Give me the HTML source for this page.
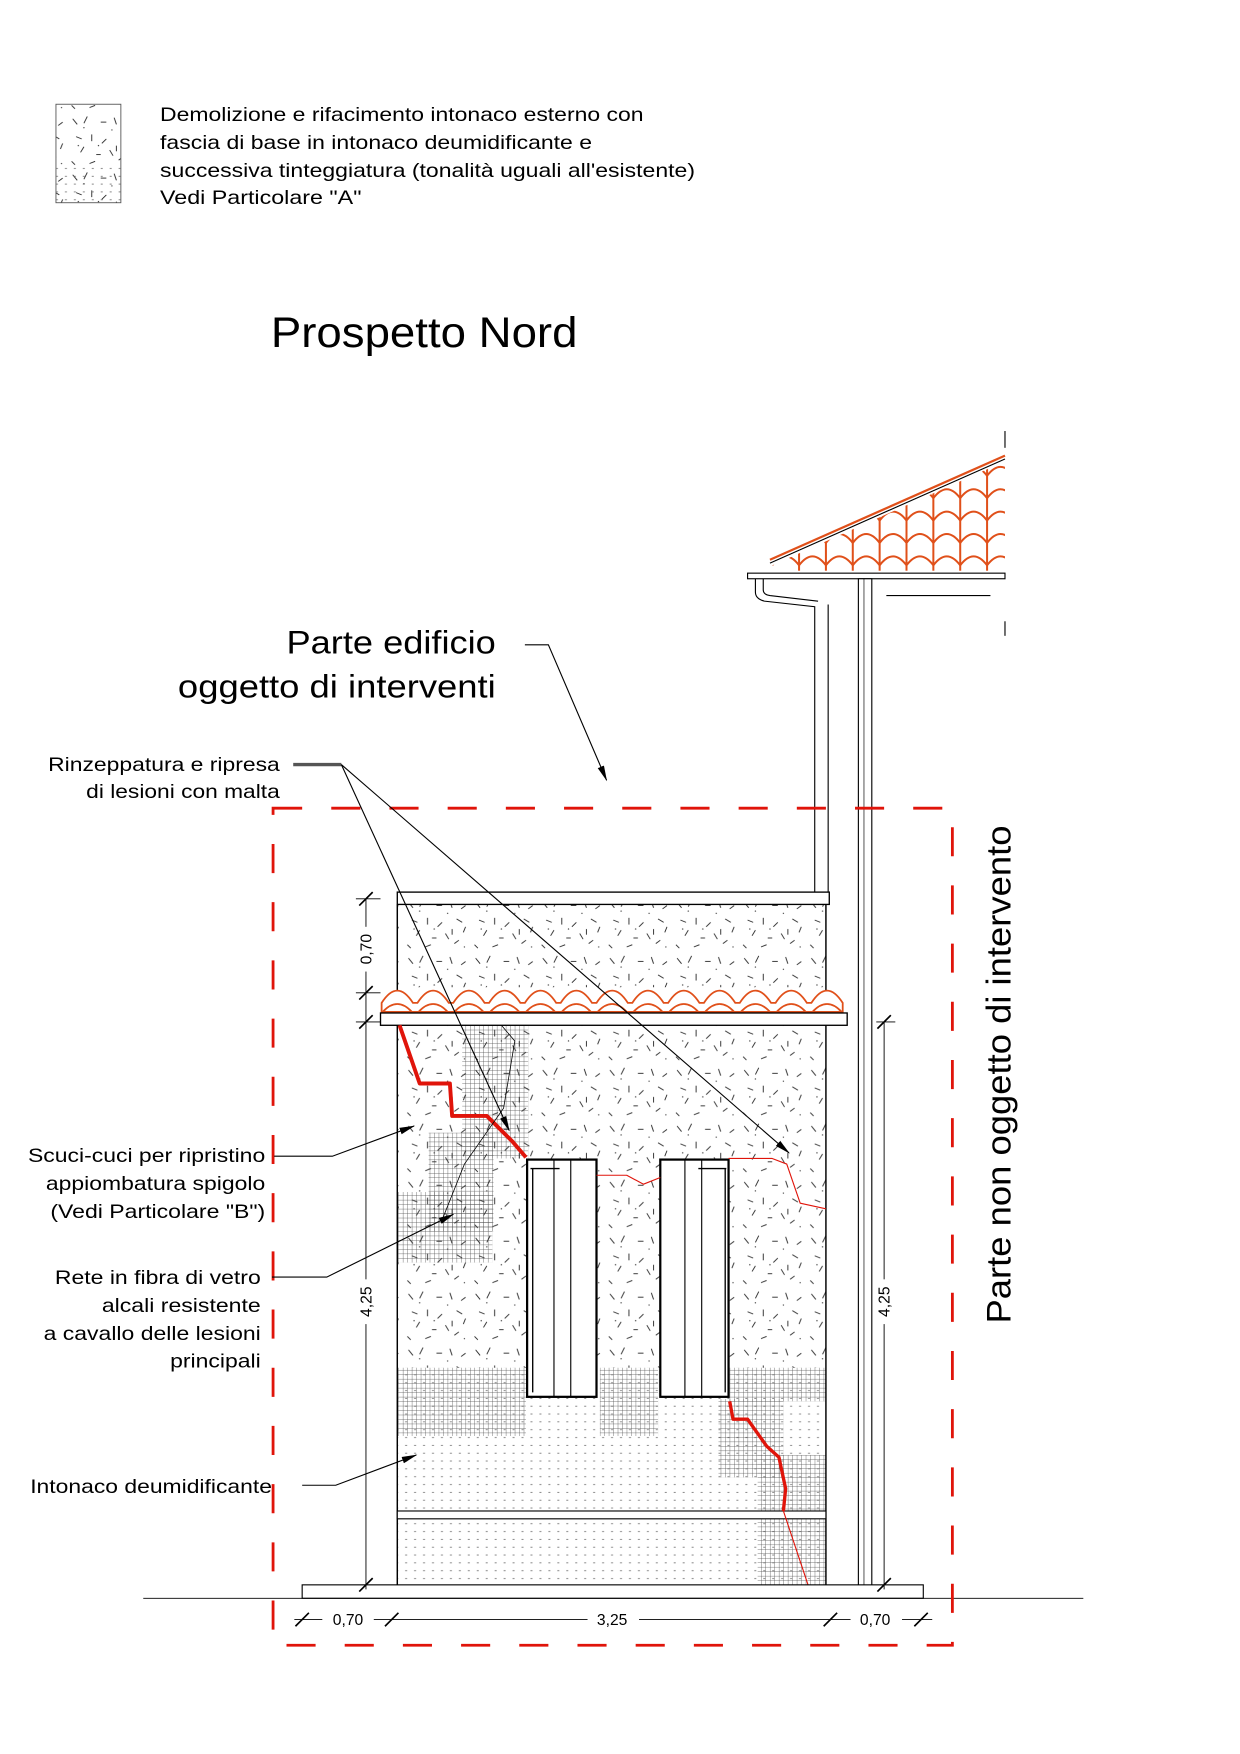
<!DOCTYPE html>
<html><head><meta charset="utf-8"><style>
html,body{margin:0;padding:0;background:#fff}
svg{display:block}
text{font-family:"Liberation Sans",sans-serif;fill:#000}
</style></head><body>
<svg width="1240" height="1754" viewBox="0 0 1108 1567" xmlns="http://www.w3.org/2000/svg">
<defs>
<pattern id="spk" width="60" height="50" patternUnits="userSpaceOnUse">
<g stroke="#222" stroke-width="0.8" fill="none">
<path d="M5 6l4 5M18 4l-3 6M30 9h5M42 5l2 6M52 12l4-3M8 22l5 2M22 20v6M35 24l-4 4M48 21l5 3M12 36l3-5M26 38h4M38 34l3 5M50 40l-4 3M4 44l3 3M20 46l5-2M44 30v5M56 28l-2 5"/>
</g>
<g fill="#444"><circle cx="15" cy="14" r="0.6"/><circle cx="40" cy="16" r="0.6"/><circle cx="28" cy="30" r="0.6"/><circle cx="55" cy="46" r="0.6"/><circle cx="10" cy="30" r="0.6"/></g>
</pattern>
<pattern id="dot" width="8" height="7" patternUnits="userSpaceOnUse">
<rect x="2" y="3" width="1.8" height="0.7" fill="#666"/>
</pattern>
<pattern id="grid" width="4" height="4" patternUnits="userSpaceOnUse">
<path d="M0 0H4M0 0V4" stroke="#333" stroke-width="0.7"/>
</pattern>
<marker id="ar" markerWidth="14" markerHeight="8" refX="13" refY="4" orient="auto" markerUnits="userSpaceOnUse">
<path d="M0 1L14 4L0 7z" fill="#000"/>
</marker>
<clipPath id="roofclip"><path d="M690 505L898 412V510H690z"/></clipPath>
</defs>

<!-- legend -->
<rect x="50" y="93" width="58" height="88" fill="url(#spk)" stroke="#555" stroke-width="0.8"/>
<rect x="50" y="145" width="58" height="36" fill="url(#dot)"/>
<g font-size="17.5" lengthAdjust="spacingAndGlyphs">
<text x="143" y="108" textLength="432" lengthAdjust="spacingAndGlyphs">Demolizione e rifacimento intonaco esterno con</text>
<text x="143" y="133" textLength="386" lengthAdjust="spacingAndGlyphs">fascia di base in intonaco deumidificante e</text>
<text x="143" y="158" textLength="478" lengthAdjust="spacingAndGlyphs">successiva tinteggiatura (tonalità uguali all'esistente)</text>
<text x="143" y="182" textLength="180" lengthAdjust="spacingAndGlyphs">Vedi Particolare "A"</text>
</g>
<text x="242" y="310" font-size="38" textLength="274" lengthAdjust="spacingAndGlyphs">Prospetto Nord</text>

<!-- roof upper right -->
<g clip-path="url(#roofclip)" stroke="#e0501a" stroke-width="1.8" fill="none">
<path d="M690 505 q12-16 24 0 q12-16 24 0 q12-16 24 0 q12-16 24 0 q12-16 24 0 q12-16 24 0 q12-16 24 0 q12-16 24 0 q12-16 24 0"/>
<path d="M690 485 q12-16 24 0 q12-16 24 0 q12-16 24 0 q12-16 24 0 q12-16 24 0 q12-16 24 0 q12-16 24 0 q12-16 24 0 q12-16 24 0"/>
<path d="M690 465 q12-16 24 0 q12-16 24 0 q12-16 24 0 q12-16 24 0 q12-16 24 0 q12-16 24 0 q12-16 24 0 q12-16 24 0 q12-16 24 0"/>
<path d="M690 445 q12-16 24 0 q12-16 24 0 q12-16 24 0 q12-16 24 0 q12-16 24 0 q12-16 24 0 q12-16 24 0 q12-16 24 0 q12-16 24 0"/>
<path d="M690 425 q12-16 24 0 q12-16 24 0 q12-16 24 0 q12-16 24 0 q12-16 24 0 q12-16 24 0 q12-16 24 0 q12-16 24 0 q12-16 24 0"/>
<path d="M714 510V440M738 510V430M762 510V420M786 510V410M810 510V400M834 510V390M858 510V380M882 510V370"/>
</g>
<path d="M688 500L898 407" stroke="#e0501a" stroke-width="2"/>
<path d="M688 503L898 410" stroke="#000" stroke-width="1"/>
<line x1="898" y1="385" x2="898" y2="400" stroke="#000"/>
<line x1="898" y1="555" x2="898" y2="568" stroke="#000"/>
<rect x="668" y="512" width="230" height="5" fill="#fff" stroke="#000" stroke-width="1"/>
<path d="M675 517v12q0 6 8 8l45 5v255M682 517v10q0 4 6 5l43 5" fill="none" stroke="#000" stroke-width="1"/>
<line x1="740" y1="540" x2="740" y2="797" stroke="#000"/>
<line x1="792" y1="532" x2="885" y2="532" stroke="#000"/>
<rect x="767" y="517" width="12" height="900" fill="#fff" stroke="#000" stroke-width="1"/>
<line x1="772" y1="517" x2="772" y2="1416" stroke="#000" stroke-width="0.6"/>

<!-- building -->
<rect x="355" y="808" width="383" height="74" fill="url(#spk)"/>
<rect x="355" y="916" width="383" height="306" fill="url(#spk)"/>
<rect x="355" y="1222" width="383" height="128" fill="url(#dot)"/>
<rect x="355" y="1357" width="383" height="59" fill="url(#dot)"/>
<g fill="url(#grid)" opacity="0.85">
<rect x="413" y="916" width="59" height="119"/>
<rect x="383" y="1012" width="58" height="88"/>
<rect x="355" y="1065" width="85" height="63"/>
<rect x="355" y="1222" width="115" height="61"/>
<rect x="536" y="1222" width="52" height="61"/>
<rect x="652" y="1222" width="86" height="30"/>
<rect x="642" y="1250" width="58" height="70"/>
<rect x="677" y="1300" width="61" height="116"/>
</g>
<line x1="355" y1="808" x2="355" y2="1416" stroke="#000" stroke-width="1.3"/>
<line x1="738" y1="808" x2="738" y2="1416" stroke="#000" stroke-width="1.3"/>
<rect x="355" y="797" width="386" height="11" fill="#fff" stroke="#000" stroke-width="1.2"/>
<rect x="355" y="1350" width="383" height="7" fill="#fff" stroke="#000" stroke-width="1"/>
<!-- tile row -->
<g stroke="#e0501a" stroke-width="1.6" fill="#fff">
<path d="M341 904V896q14-22 28 0h4q14-22 28 0h4q14-22 28 0h4q14-22 28 0h4q14-22 28 0h4q14-22 28 0h4q14-22 28 0h4q14-22 28 0h4q14-22 28 0h4q14-22 28 0h4q14-22 28 0h4q14-22 28 0h4q14-22 28 0V904z"/>
<path fill="none" d="M342 904q13-14 26 0M374 904q13-14 26 0M406 904q13-14 26 0M438 904q13-14 26 0M470 904q13-14 26 0M502 904q13-14 26 0M534 904q13-14 26 0M566 904q13-14 26 0M598 904q13-14 26 0M630 904q13-14 26 0M662 904q13-14 26 0M694 904q13-14 26 0M726 904q13-14 26 0"/>
</g>
<rect x="340" y="905" width="417" height="11" fill="#fff" stroke="#000" stroke-width="1.2"/>
<!-- windows -->
<g fill="#fff" stroke="#000">
<rect x="471" y="1036" width="62" height="212" stroke-width="2"/>
<line x1="495" y1="1036" x2="495" y2="1248"/><line x1="510" y1="1036" x2="510" y2="1248"/>
<path d="M474 1044h26M476 1044v200" stroke-width="1.2"/>
<rect x="590" y="1036" width="61" height="212" stroke-width="2"/>
<line x1="612" y1="1036" x2="612" y2="1248"/><line x1="627" y1="1036" x2="627" y2="1248"/>
<path d="M624 1044h25M648 1044v200" stroke-width="1.2"/>
</g>
<!-- cracks -->
<g fill="none" stroke="#e0140a" stroke-linejoin="round">
<path d="M357 916L375 968H402L404 997H435L458 1020L470 1034" stroke-width="3.5"/>
<path d="M533 1050H560L575 1058L590 1052" stroke-width="1"/>
<path d="M651 1035H690L703 1040L715 1075L738 1080" stroke-width="1"/>
<path d="M652 1252L655 1268H668L685 1292L696 1302L702 1330L700 1350" stroke-width="3"/>
<path d="M700 1350L722 1416" stroke-width="1"/>
</g>
<!-- base -->
<rect x="270" y="1416" width="555" height="12" fill="#fff" stroke="#000" stroke-width="1"/>
<line x1="128" y1="1428" x2="968" y2="1428" stroke="#000" stroke-width="0.8"/>

<!-- red dashed boundary -->
<rect x="244" y="722" width="607" height="748" fill="none" stroke="#e0140a" stroke-width="2.5" stroke-dasharray="26 26"/>

<!-- dimensions -->
<g stroke="#000" stroke-width="0.8" fill="none">
<line x1="327" y1="803" x2="327" y2="1420"/>
<line x1="318" y1="803" x2="340" y2="803"/><line x1="318" y1="887" x2="340" y2="887"/><line x1="318" y1="913" x2="340" y2="913"/>
<line x1="790" y1="913" x2="790" y2="1420"/><line x1="783" y1="913" x2="800" y2="913"/>
<line x1="263" y1="1447" x2="833" y2="1447"/>
<g stroke-width="1.5">
<path d="M321 809l12-12M321 893l12-12M321 919l12-12M321 1422l12-12M784 919l12-12M784 1422l12-12"/>
<path d="M264 1453l12-12M344 1453l12-12M736 1453l12-12M817 1453l12-12"/>
</g>
</g>
<g fill="#fff"><rect x="318" y="828" width="18" height="40"/><rect x="318" y="1143" width="18" height="40"/><rect x="781" y="1143" width="18" height="40"/>
<rect x="288" y="1438" width="46" height="18"/><rect x="525" y="1438" width="46" height="18"/><rect x="760" y="1438" width="46" height="18"/></g>
<g font-size="14">
<text transform="translate(332 848) rotate(-90)" text-anchor="middle">0,70</text>
<text transform="translate(332 1163) rotate(-90)" text-anchor="middle">4,25</text>
<text transform="translate(795 1163) rotate(-90)" text-anchor="middle">4,25</text>
<text x="311" y="1452" text-anchor="middle">0,70</text>
<text x="547" y="1452" text-anchor="middle">3,25</text>
<text x="782" y="1452" text-anchor="middle">0,70</text>
</g>

<!-- labels -->
<g font-size="29" text-anchor="end">
<text x="443" y="584" textLength="187" lengthAdjust="spacingAndGlyphs">Parte edificio</text>
<text x="443" y="623" textLength="284" lengthAdjust="spacingAndGlyphs">oggetto di interventi</text>
</g>
<text transform="translate(903 960) rotate(-90)" font-size="31" text-anchor="middle" textLength="445" lengthAdjust="spacingAndGlyphs">Parte non oggetto di intervento</text>
<g font-size="17.5" text-anchor="end">
<text x="250" y="689" textLength="207" lengthAdjust="spacingAndGlyphs">Rinzeppatura e ripresa</text>
<text x="250" y="713" textLength="173" lengthAdjust="spacingAndGlyphs">di lesioni con malta</text>
<text x="237" y="1038" textLength="212" lengthAdjust="spacingAndGlyphs">Scuci-cuci per ripristino</text>
<text x="237" y="1063" textLength="196" lengthAdjust="spacingAndGlyphs">appiombatura spigolo</text>
<text x="237" y="1088" textLength="192" lengthAdjust="spacingAndGlyphs">(Vedi Particolare "B")</text>
<text x="233" y="1147" textLength="184" lengthAdjust="spacingAndGlyphs">Rete in fibra di vetro</text>
<text x="233" y="1172" textLength="142" lengthAdjust="spacingAndGlyphs">alcali resistente</text>
<text x="233" y="1197" textLength="194" lengthAdjust="spacingAndGlyphs">a cavallo delle lesioni</text>
<text x="233" y="1222" textLength="81" lengthAdjust="spacingAndGlyphs">principali</text>
</g>
<text x="27" y="1334" font-size="17.5" textLength="216" lengthAdjust="spacingAndGlyphs">Intonaco deumidificante</text>
<g stroke="#000" stroke-width="1" fill="none">
<line x1="262" y1="683" x2="305" y2="683" stroke="#555" stroke-width="3"/>
<line x1="305" y1="683" x2="455" y2="1010" marker-end="url(#ar)"/>
<line x1="305" y1="683" x2="705" y2="1030" marker-end="url(#ar)"/>
<path d="M469 576H490L542 697" marker-end="url(#ar)"/>
<path d="M245 1033H297L370 1006" marker-end="url(#ar)"/>
<path d="M243 1141H292L405 1085" marker-end="url(#ar)"/>
<path d="M270 1327H300L372 1300" marker-end="url(#ar)"/>
<path d="M395 1090L415 1040L450 990L460 930L448 916" stroke-width="0.7"/>
</g>
</svg>
</body></html>
